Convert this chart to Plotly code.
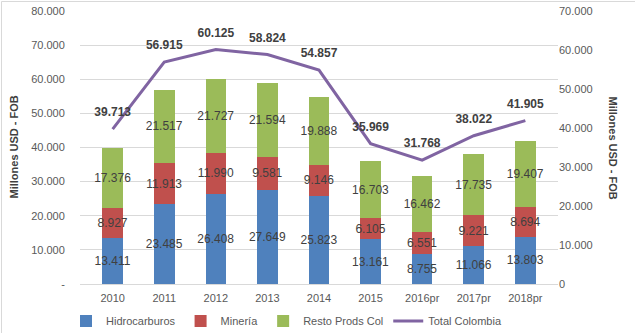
import plotly.graph_objects as go

years = ["2010", "2011", "2012", "2013", "2014", "2015", "2016pr", "2017pr", "2018pr"]
hidrocarburos = [13411, 23485, 26408, 27649, 25823, 13161, 8755, 11066, 13803]
mineria = [8927, 11913, 11990, 9581, 9146, 6105, 6551, 9221, 8694]
resto = [17376, 21517, 21727, 21594, 19888, 16703, 16462, 17735, 19407]
total = [39713, 56915, 60125, 58824, 54857, 35969, 31768, 38022, 41905]

left_ticks = [0, 10000, 20000, 30000, 40000, 50000, 60000, 70000, 80000]
left_ticktext = ["-", "10.000", "20.000", "30.000", "40.000", "50.000", "60.000", "70.000", "80.000"]
right_ticks = [0, 10000, 20000, 30000, 40000, 50000, 60000, 70000]
right_ticktext = ["0", "10.000", "20.000", "30.000", "40.000", "50.000", "60.000", "70.000"]

FONT = "Liberation Sans"
LBL = "#404040"
TICK = "#595959"

W, H = 635, 333
ML, MR, MT, MB = 80, 77, 11, 49
PW, PH = W - ML - MR, H - MT - MB

def px_x(p):
    return (p - ML) / PW

def px_y(p):
    return (H - MB - p) / PH

fig = go.Figure()
for name, vals, col in [("Hidrocarburos", hidrocarburos, "#4F81BD"),
                        ("Minería", mineria, "#C0504D"),
                        ("Resto Prods Col", resto, "#9BBB59")]:
    fig.add_trace(go.Bar(
        x=years, y=vals, name=name, marker=dict(color=col, line=dict(width=0)),
        texttemplate="%{y:,.0f}", textposition="inside", insidetextanchor="middle",
        constraintext="none", textangle=0, cliponaxis=False,
        textfont=dict(family=FONT, size=12, color=LBL),
        hoverinfo="skip",
    ))

fig.add_trace(go.Scatter(
    x=years, y=total, name="Total Colombia", yaxis="y2",
    mode="lines+markers+text", line=dict(color="#8064A2", width=3),
    marker=dict(size=14, color="rgba(0,0,0,0)"),
    texttemplate="<b>%{y:,.0f}</b>", textposition="top center",
    textfont=dict(family=FONT, size=12, color=LBL), cliponaxis=False,
))

fig.update_layout(
    width=W, height=H,
    margin=dict(l=ML, r=MR, t=MT, b=MB, autoexpand=False),
    barmode="stack", bargap=0.6,
    separators=",.",
    paper_bgcolor="white", plot_bgcolor="white",
    font=dict(family=FONT, size=11, color=TICK),
    showlegend=True,
    legend=dict(orientation="h", x=px_x(66), xanchor="left", y=px_y(321), yanchor="middle",
                font=dict(family=FONT, size=11, color=TICK), itemwidth=30,
                traceorder="normal"),
    xaxis=dict(showline=True, linecolor="#D9D9D9", linewidth=1,
               ticks="outside", ticklen=4, tickcolor="rgba(0,0,0,0)", automargin=False,
               tickfont=dict(family=FONT, size=11, color=TICK)),
    yaxis=dict(range=[0, 80000], tickvals=left_ticks, ticktext=left_ticktext,
               showgrid=True, gridcolor="#D9D9D9", gridwidth=1, zeroline=False,
               ticks="outside", ticklen=12, tickcolor="rgba(0,0,0,0)", automargin=False,
               tickfont=dict(family=FONT, size=11, color=TICK)),
    yaxis2=dict(range=[0, 70000], tickvals=right_ticks, ticktext=right_ticktext,
                overlaying="y", side="right", showgrid=False, zeroline=False, automargin=False,
                tickfont=dict(family=FONT, size=11, color=TICK)),
    shapes=[dict(type="rect", xref="paper", yref="paper",
                 x0=px_x(1.5), x1=px_x(W + 20), y0=px_y(H + 20), y1=px_y(1.5),
                 line=dict(color="#D9D9D9", width=1), fillcolor="rgba(0,0,0,0)", layer="below")],
    annotations=[
        dict(text="<b>Millones USD - FOB</b>", textangle=90, xref="paper", yref="paper",
             x=px_x(613), y=0.5, xanchor="center", yanchor="middle", showarrow=False,
             font=dict(family=FONT, size=11, color=LBL)),
        dict(text="<b>Millones USD - FOB</b>", textangle=-90, xref="paper", yref="paper",
             x=px_x(13), y=0.5, xanchor="center", yanchor="middle", showarrow=False,
             font=dict(family=FONT, size=11, color=LBL)),
    ],
)

fig.write_html("out.html")
